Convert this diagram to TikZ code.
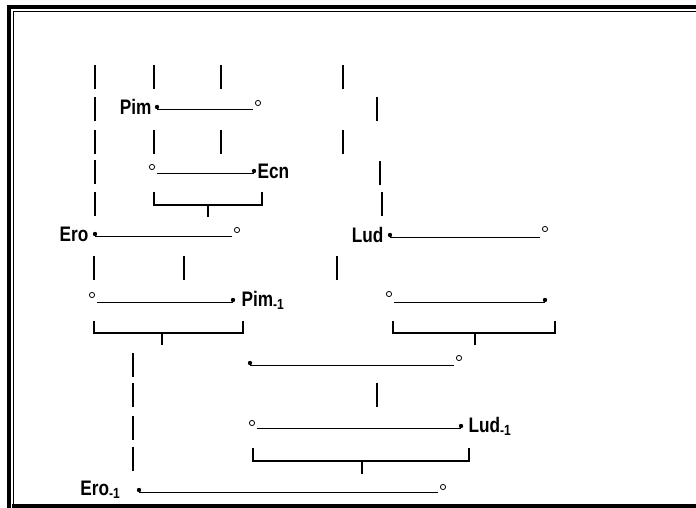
\documentclass[tikz,border=0pt]{standalone}
\usepackage{fontspec}
\setmainfont{Liberation Sans}[FakeStretch=0.82]
\usetikzlibrary{positioning}

\begin{document}
\begin{tikzpicture}[
  x=1pt,y=-1pt,
  lbl/.style={inner sep=1pt,font=\fontsize{21}{24}\selectfont\bfseries},
  dot/.style={circle,fill=black,inner sep=0pt,minimum size=4.4pt},
  ring/.style={circle,draw=black,line width=0.8pt,inner sep=0pt,minimum size=5.2pt},
  link/.style={line width=1.3pt,shorten <=2pt},
  bar/.style={line width=1.6pt},
  brk/.style={line width=1.5pt}
]
\useasboundingbox (0,0) rectangle (696,508);
% double rule round the sheet
\draw[line width=4pt] (9,508) -- (9,7) -- (696,7);
\draw[line width=1.6pt] (13.5,508) -- (13.5,11.7) -- (696,11.7);
\draw[line width=4pt] (11.5,506) -- (696,506);

% tally bars
\foreach \x/\y in {95/65,95/97,95/130,95/160,95/192,154/65,221/65,343/65,
                   154/130,221/130,343/130,377/97,380/161,382/192,
                   94/256,184/256,337/256,133/353,133/383,133/416,133/447,377/383}
  \draw[bar] (\x,\y) -- ++(0,24);

% Pim
\node[dot] (pim) at (157,107) {};
\node[ring] (pimRing) at (258,103) {};
\node[lbl,left=2pt of pim] (pimText) {Pim};
\draw[link] (pim.south -| pimRing.west) -- (pim.south);

% Ecn
\node[ring] (ecnRing) at (152,167) {};
\node[dot] (ecn) at (254,171) {};
\node[lbl,right=0pt of ecn] (ecnText) {Ecn};
\draw[link] (ecn.south -| ecnRing.east) -- (ecn.south);
\draw[brk] (154,192) |- (262,205) -- (262,192) (208,205) -- (208,217);

% Ero and Lud
\node[dot] (ero) at (95,234) {};
\node[ring] (eroRing) at (237,230) {};
\node[lbl,left=3pt of ero] (eroText) {Ero};
\draw[link] (ero.south -| eroRing.west) -- (ero.south);
\node[dot] (lud) at (390,235) {};
\node[ring] (ludRing) at (545,229) {};
\node[lbl,left=3pt of lud] (ludText) {Lud};
\draw[link] (lud.south -| ludRing.west) -- (lud.south);

% Pim-1 and its partner
\node[ring] (pimmRing) at (92,295) {};
\node[dot] (pimm) at (233,300) {};
\node[lbl,right=5pt of pimm] (pimmText) {Pim\textsubscript{-1}};
\draw[link] (pimm.south -| pimmRing.east) -- (pimm.south);
\node[ring] (joinRing) at (389,294) {};
\node[dot] (join) at (545,300) {};
\draw[link] (join.south -| joinRing.east) -- (join.south);
\draw[brk] (94,321) |- (243,333) -- (243,321) (162,333) -- (162,345);
\draw[brk] (393,321) |- (555,333) -- (555,321) (475,333) -- (475,345);

% middle pair
\node[dot] (mid) at (250,363) {};
\node[ring] (midRing) at (459,358) {};
\draw[link] (mid.south -| midRing.west) -- (mid.south);

% Lud-1
\node[ring] (ludmRing) at (252,423) {};
\node[dot] (ludm) at (461,426) {};
\node[lbl,right=4pt of ludm] (ludmText) {Lud\textsubscript{-1}};
\draw[link] (ludm.south -| ludmRing.east) -- (ludm.south);
\draw[brk] (253,448) |- (469,461) -- (469,448) (362,461) -- (362,474);

% Ero-1
\node[dot] (erom) at (139,490) {};
\node[ring] (eromRing) at (443,487) {};
\node[lbl,left=15pt of erom] (eromText) {Ero\textsubscript{-1}};
\draw[link] (erom.south -| eromRing.west) -- (erom.south);
\end{tikzpicture}
\end{document}
